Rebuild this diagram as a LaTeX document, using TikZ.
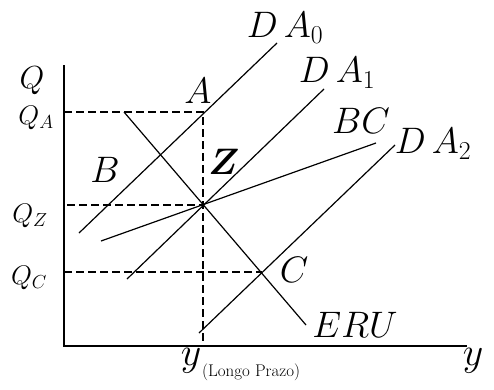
\RequirePackage{fix-cm}
\documentclass[tikz,border=0pt]{standalone}
\usepackage{amsmath,amssymb,bm}
\usepackage{tikz}
\usetikzlibrary{positioning}

\begin{document}
\begin{tikzpicture}[x=1bp, y=-1bp,
  curve/.style={line width=1.2bp},
  axis/.style={line width=1.4bp},
  guide/.style={line width=2bp, dash pattern=on 8bp off 4bp},
  lbl/.style={inner sep=0pt, font=\fontsize{37}{39}\selectfont},
  tick/.style={inner sep=0pt, font=\fontsize{27}{29}\selectfont}
]
\useasboundingbox (0,0) rectangle (494,389);
% axes
\coordinate (o) at (64,346);
\coordinate (qtop) at (64,65);
\coordinate (yend) at (467,346);
\draw[axis] (qtop) -- (o) -- (yend);
% points
\coordinate (pA) at (203,112);
\coordinate (pZ) at (203,205);
\coordinate (pC) at (262,272);
\coordinate (qa) at (64,112);
\coordinate (qz) at (67,205);
\coordinate (qc) at (64,272);
\coordinate (ylp) at (203,346);
% dashed guides
\draw[guide] (qa) -- (pA) -- (ylp);
\draw[guide] (qz) -- (pZ);
\draw[guide] (qc) -- (pC);
% curves
\coordinate (da0s) at (79,233);  \coordinate (da0e) at (277,43);
\coordinate (da1s) at (127,279); \coordinate (da1e) at (324,89);
\coordinate (da2s) at (199,333); \coordinate (da2e) at (395,145);
\coordinate (bcs) at (101,241);  \coordinate (bce) at (376,143);
\coordinate (erus) at (124,112); \coordinate (erue) at (306,325);
\draw[curve] (da0s) -- (da0e);
\draw[curve] (da1s) -- (da1e);
\draw[curve] (da2s) -- (da2e);
\draw[curve] (bcs) -- (bce);
\draw[curve] (erus) -- (erue);
% labels
\node[lbl] (lDA0) at (285,28) {$D\,A_0$};
\node[lbl] (lDA1) at (337,73) {$D\,A_1$};
\node[lbl] (lBC) at (361,121) {$BC$};
\node[lbl] (lDA2) at (433,144) {$D\,A_2$};
\node[lbl] (lERU) at (355,325) {$ERU$};
\node[lbl] (lA) at (198,91) {$A$};
\node[lbl] (lB) at (105,170) {$B$};
\node[lbl] (lZ) at (224,162) {$\bm{Z}$};
\node[lbl] (lC) at (294,270) {$C$};
\node[inner sep=0pt, font=\fontsize{32}{34}\selectfont] (lQ) at (32,81) {$Q$};
\node[tick] (lQA) at (36,118) {$Q_A$};
\node[tick] (lQZ) at (30,216) {$Q_Z$};
\node[tick] (lQC) at (29,278) {$Q_C$};
\node[inner sep=0pt, font=\fontsize{40}{42}\selectfont] (ly) at (191,361) {$y$};
\node[inner sep=0pt, anchor=west, font=\fontsize{17}{19}\selectfont] (llp) at (202,372) {(Longo Prazo)};
\node[inner sep=0pt, font=\fontsize{40}{42}\selectfont] (lyr) at (473,361) {$y$};
\end{tikzpicture}
\end{document}
